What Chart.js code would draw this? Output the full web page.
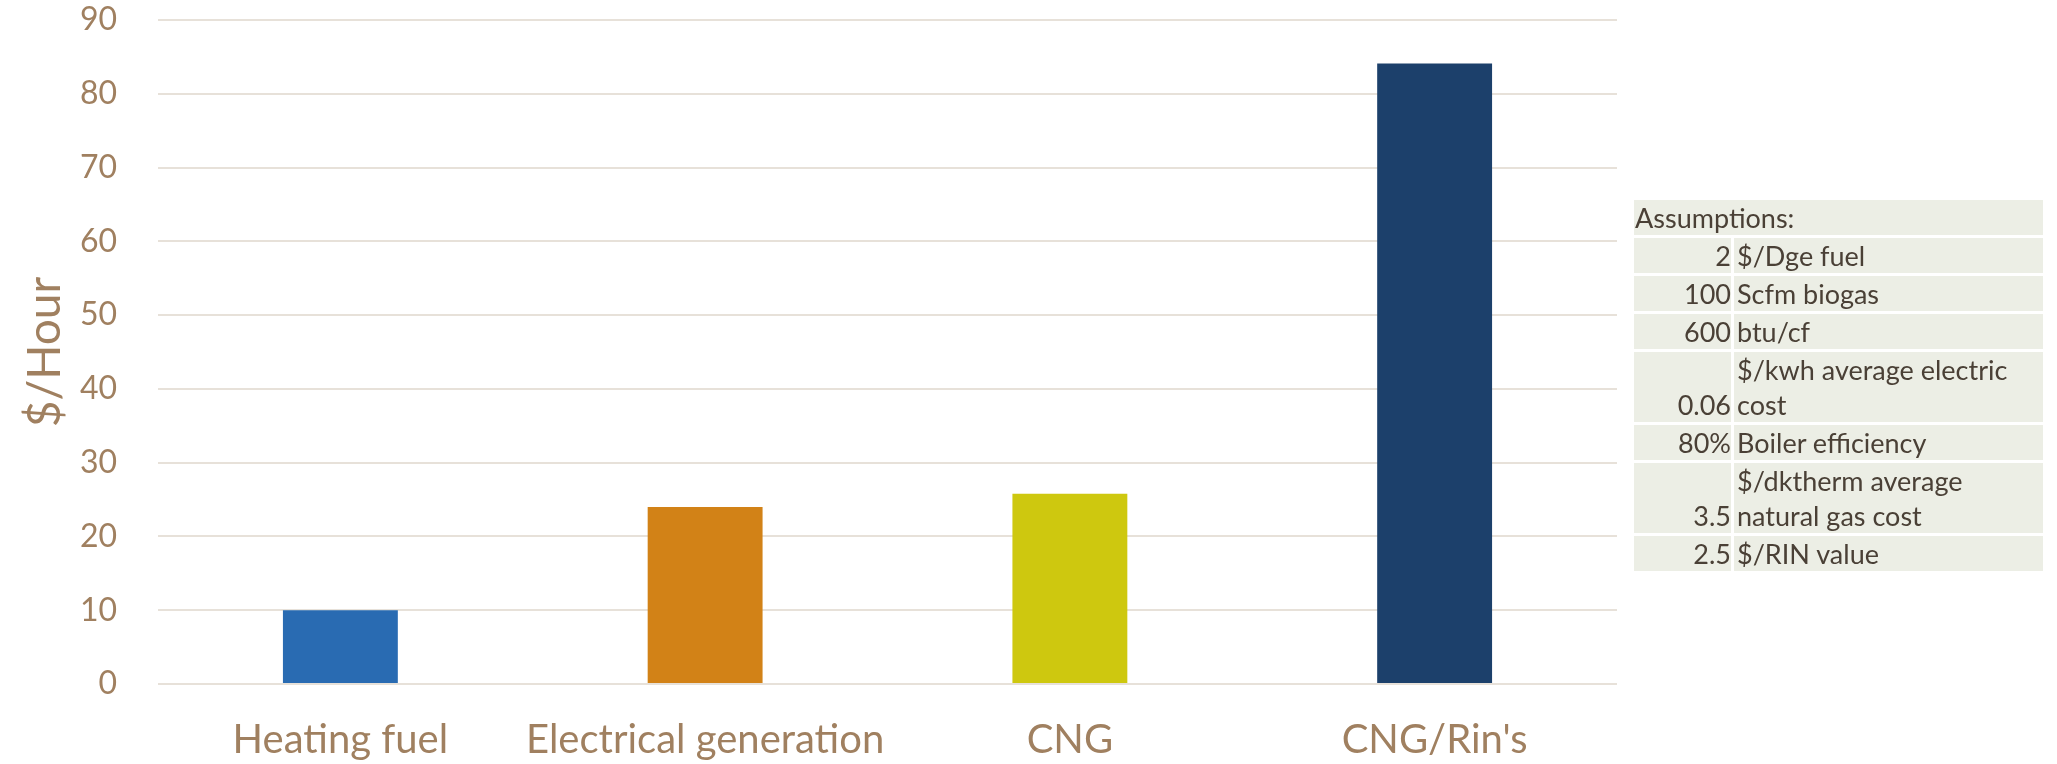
<!DOCTYPE html>
<html>
<head>
<meta charset="utf-8">
<script src="https://cdn.jsdelivr.net/npm/chart.js@4"></script>
<style>
  html, body { margin: 0; padding: 0; background: #fff; }
  #wrap { position: relative; width: 2057px; height: 764px; }
  #costChart { position: absolute; left: 0; top: 0; }
  #assumptions {
    position: absolute; left: 1631px; top: 197px;
    border-collapse: separate; border-spacing: 3px;
    font-family: Lato, "Open Sans", sans-serif; font-size: 27px; line-height: 35px;
    color: #4a4036;
  }
  #assumptions td { background: #eceee5; padding: 0; vertical-align: bottom; white-space: nowrap; }
  #assumptions td.num { text-align: right; width: 97px; padding-right: 0; }
  #assumptions td.txt { width: 306px; padding-left: 3px; }
</style>
</head>
<body>
<div id="wrap">
  <canvas id="costChart" width="2057" height="764"></canvas>
  <table id="assumptions"></table>
</div>
<script>
const categories = ['Heating fuel', 'Electrical generation', 'CNG', "CNG/Rin's"];
const dollarsPerHour = [10, 24, 25.8, 84.1];
const barColors = ['#296bb2', '#d28217', '#cec80f', '#1c406b'];
const yTicks = [0, 10, 20, 30, 40, 50, 60, 70, 80, 90];

const assumptionValues = ['2', '100', '600', '0.06', '80%', '3.5', '2.5'];
const assumptionLabels = ['$/Dge fuel', 'Scfm biogas', 'btu/cf', '$/kwh average electric\ncost',
    'Boiler efficiency', '$/dktherm average\nnatural gas cost', '$/RIN value'];

document.addEventListener('DOMContentLoaded', function () {
    const table = document.getElementById('assumptions');
    let html = '<tr><td colspan="2" style="padding-left:1px">Assumptions:</td></tr>';
    assumptionValues.forEach((v, i) => {
        html += '<tr><td class="num">' + v + '</td><td class="txt">' +
            assumptionLabels[i].replace(/\$/g, '&#36;').replace('\n', '<br>') + '</td></tr>';
    });
    table.innerHTML = html;

    const brown = '#a08060';
    const ctx = document.getElementById('costChart').getContext('2d');

    new Chart(ctx, {
        type: 'bar',
        data: {
            labels: categories,
            datasets: [{
                label: '$/Hour',
                data: dollarsPerHour,
                backgroundColor: barColors,
                barPercentage: 0.63,
                categoryPercentage: 0.5,
            }],
        },
        options: {
            responsive: false,
            animation: false,
            layout: { padding: { top: 20, right: 440, left: 0, bottom: 0 } },
            plugins: { legend: { display: false }, tooltip: { enabled: false } },
            scales: {
                x: {
                    grid: { display: false },
                    border: { display: false },
                    ticks: { color: brown, font: { family: 'Lato', size: 40 }, padding: 24 },
                    afterFit: (s) => { s.height = 80; },
                },
                y: {
                    min: 0,
                    max: 90,
                    afterBuildTicks: (s) => { s.ticks = yTicks.map(v => ({ value: v })); },
                    grid: { color: '#e7e1d9', lineWidth: 2, drawTicks: false },
                    border: { display: false },
                    ticks: { color: brown, font: { family: 'Lato', size: 32 }, padding: 41 },
                    title: {
                        display: true,
                        text: '$/Hour',
                        color: brown,
                        font: { family: 'Lato', size: 46 },
                        padding: { top: 18, bottom: 0 },
                    },
                    afterFit: (s) => {
                        // fixed axis width; tick padding should not push the plot down
                        s.width = 158;
                        s.paddingTop = 0;
                        s.paddingBottom = 0;
                    },
                },
            },
        },
    });
});
</script>
</body>
</html>
